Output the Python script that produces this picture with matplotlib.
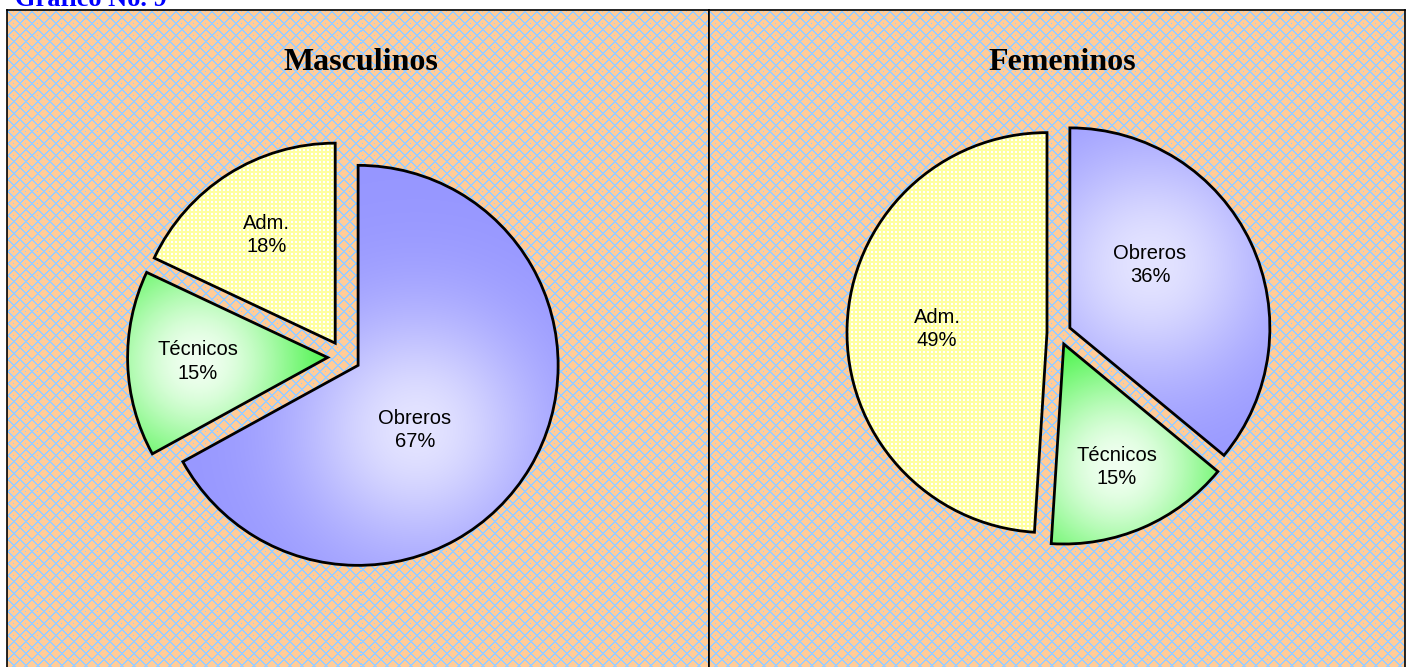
import numpy as np
import matplotlib
matplotlib.use("Agg")
import matplotlib.pyplot as plt

# data
categories = ["Obreros", "Técnicos", "Adm."]
masculinos = [67, 15, 18]
femeninos = [36, 15, 49]
panel_titles = ["Masculinos", "Femeninos"]
figure_title = "Gráfico No. 9"

W_PX, H_PX = 1406, 667
ORANGE = np.array([255, 204, 153]) / 255
LBLUE = np.array([153, 204, 255]) / 255
RADIUS = 200


def bg_texture(h, w, period=12):
    yy, xx = np.mgrid[0:h, 0:w]
    mask = ((xx + yy) % period < 2) | ((xx - yy) % period < 2) | \
           ((xx % period == 6) & (yy % period == 0))
    return np.where(mask[..., None], LBLUE, ORANGE)


def wedge_image(ax, wedge, kind, focus):
    cx, cy = wedge.center
    r = wedge.r
    n = int(2 * r)
    yy, xx = np.mgrid[0:n, 0:n]
    x = cx - r + xx
    y = cy - r + yy
    if kind == "yellow":
        base = np.array([255, 255, 160]) / 255
        dots = ((xx % 4) < 2) & ((yy % 4) < 2)
        img = np.where(dots[..., None], np.ones(3), base)
    else:
        if kind == "blue":
            dark = np.array([150, 150, 255]) / 255
            light = np.array([228, 228, 255]) / 255
        else:
            dark = np.array([10, 240, 10]) / 255
            light = np.array([240, 255, 240]) / 255
        d = np.hypot(x - focus[0], y - focus[1])
        g = np.exp(-(d / (0.6 * r)) ** 2)
        img = dark + (light - dark) * g[..., None]
    im = ax.imshow(img, extent=(cx - r, cx + r, cy - r, cy + r), origin="lower",
                   interpolation="nearest", zorder=2)
    im.set_clip_path(wedge)


fig = plt.figure(figsize=(W_PX / 100, H_PX / 100), dpi=100)
fig.patch.set_facecolor("white")

# panel layout in pixels: left, width, pie centre (x, y from panel top),
# explode (fraction of radius), label (dist, angle shift)
panels = [
    dict(left=7, width=702, values=masculinos, center=(337, 347), explode=0.082,
         lab=[(0.43, -18), (0.65, 0), (0.64, 0)], tx=354),
    dict(left=709, width=696, values=femeninos, center=(350, 323), explode=0.06,
         lab=[(0.51, 13), (0.67, 0), (0.55, 0)], tx=353),
]
top, bottom = 10, 672
H = bottom - top
kinds = ["blue", "green", "yellow"]

for p, title in zip(panels, panel_titles):
    ax = fig.add_axes([p["left"] / W_PX, (H_PX - bottom) / H_PX,
                       p["width"] / W_PX, H / H_PX])
    w = p["width"]
    ax.imshow(bg_texture(H, w), extent=(0, w, 0, H), origin="lower",
              interpolation="nearest", zorder=0)
    cx, cy = p["center"][0], H - p["center"][1]
    wedges, _ = ax.pie(p["values"], startangle=90, counterclock=False,
                       explode=[p["explode"] * RADIUS] * 3, center=(cx, cy),
                       radius=RADIUS, frame=True,
                       wedgeprops=dict(edgecolor="black", linewidth=2))
    for wdg, kind, name, val, (dist, shift) in zip(wedges, kinds, categories,
                                                   p["values"], p["lab"]):
        mid = np.deg2rad((wdg.theta1 + wdg.theta2) / 2 + shift)
        lx = wdg.center[0] + dist * wdg.r * np.cos(mid)
        ly = wdg.center[1] + dist * wdg.r * np.sin(mid)
        wedge_image(ax, wdg, kind, (lx, ly))
        wdg.set_facecolor("none")
        wdg.set_zorder(3)
        ax.text(lx, ly, f"{name}\n{val}%", ha="center", va="center",
                fontsize=14.5, family="Liberation Sans", linespacing=1.3,
                zorder=4)
    ax.text(p["tx"], H - 53, title, ha="center", va="center", fontsize=23,
            family="Liberation Serif", weight="bold", zorder=4)
    ax.set_xlim(0, w)
    ax.set_ylim(0, H)
    ax.set_aspect("auto")
    ax.set_frame_on(True)
    ax.set_xticks([])
    ax.set_yticks([])
    for s in ax.spines.values():
        s.set_visible(True)
        s.set_linewidth(1.2)
        s.set_color("black")
        s.set_zorder(6)

fig.text(15 / W_PX, 1 - 6 / H_PX, figure_title, ha="left", va="baseline",
         fontsize=19, family="Liberation Serif", weight="bold", color="#0000FF")

fig.savefig("out.png", dpi=100)
